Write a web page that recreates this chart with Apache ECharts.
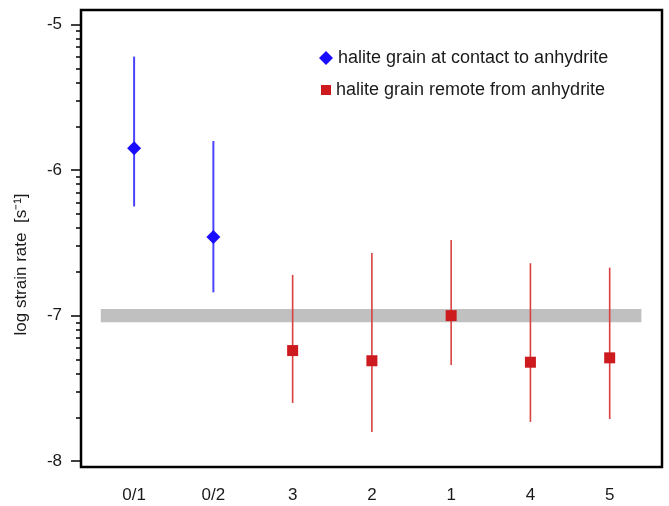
<!DOCTYPE html>
<html>
<head>
<meta charset="utf-8">
<script src="https://cdn.jsdelivr.net/npm/echarts@6/dist/echarts.min.js"></script>
<style>
  html, body { margin: 0; padding: 0; background: #ffffff; }
  #chart { width: 669px; height: 506px; }
</style>
</head>
<body>
<div id="chart"></div>
<script>
// Sample labels along the horizontal axis
const categories = ['0/1', '0/2', '3', '2', '1', '4', '5'];

// Grains at contact to anhydrite (positions 0, 1)
const contactIndex = [0, 1];
const contactRate = [-5.85, -6.46];
const contactHigh = [-5.22, -5.80];
const contactLow  = [-6.25, -6.84];

// Grains remote from anhydrite (positions 2..6)
const remoteIndex = [2, 3, 4, 5, 6];
const remoteRate = [-7.24, -7.31, -7.00, -7.32, -7.29];
const remoteHigh = [-6.72, -6.57, -6.48, -6.64, -6.67];
const remoteLow  = [-7.60, -7.80, -7.34, -7.73, -7.71];

// Reference strain rate shown as a grey band
const referenceRate = -7;
const referenceHalfWidth = 0.045;
const referenceSpan = [-0.42, 6.40];

// Y axis tick labels (log10 of strain rate)
const yTicks = [-8, -7, -6, -5];

// Log-style minor ticks inside each decade
const minorTicks = [];
for (let d = -8; d < -5; d++) {
  for (let k = 2; k <= 9; k++) minorTicks.push(d + Math.log10(k));
}

const FONT = '"Liberation Sans", Arial, Helvetica, sans-serif';
const TEXT = '#1a1a1a';
const BLUE = '#1a0dff';
const BLUE_LINE = '#4a44ff';
const RED = '#cc1a1e';
const RED_LINE = '#d9403f';

const NAME_CONTACT = 'halite grain at contact to anhydrite';
const NAME_REMOTE = 'halite grain remote from anhydrite';

function pairs(xs, ys) { return xs.map((x, i) => [x, ys[i]]); }
function bars(xs, lo, hi) { return xs.map((x, i) => [x, lo[i], hi[i]]); }

function errorBar(color, width) {
  return function (params, api) {
    const p1 = api.coord([api.value(0), api.value(1)]);
    const p2 = api.coord([api.value(0), api.value(2)]);
    return {
      type: 'line',
      shape: { x1: p1[0], y1: p1[1], x2: p2[0], y2: p2[1] },
      style: { stroke: color, lineWidth: width }
    };
  };
}

const legendText = { fontFamily: FONT, fontSize: 18, color: TEXT, lineHeight: 18 };

const chart = echarts.init(document.getElementById('chart'), null, { renderer: 'canvas' });

chart.setOption({
  animation: false,
  backgroundColor: '#ffffff',
  textStyle: { fontFamily: FONT },
  grid: {
    left: 81, top: 10, right: 7, bottom: 39,
    show: true, borderColor: '#000000', borderWidth: 2.5, backgroundColor: 'transparent'
  },
  legend: [
    {
      orient: 'vertical',
      left: 314, top: 44,
      itemWidth: 14, itemHeight: 14,
      itemTextGap: 12,
      textStyle: legendText,
      data: [{ name: NAME_CONTACT, icon: 'diamond' }]
    },
    {
      orient: 'vertical',
      left: 316, top: 76,
      itemWidth: 10, itemHeight: 10,
      itemTextGap: 14,
      textStyle: legendText,
      data: [{ name: NAME_REMOTE, icon: 'rect' }]
    }
  ],
  xAxis: {
    type: 'value',
    min: -0.67, max: 6.66,
    splitLine: { show: false },
    axisLine: { show: false, onZero: false },
    axisTick: { show: false },
    axisLabel: {
      customValues: categories.map((c, i) => i),
      formatter: v => categories[Math.round(v)],
      fontFamily: FONT, fontSize: 17, color: TEXT, margin: 20
    }
  },
  yAxis: [
    {
      type: 'value',
      min: -8.04, max: -4.9,
      name: 'log strain rate  [s\u207B\u00B9]',
      nameLocation: 'middle',
      nameGap: 51,
      nameTextStyle: { fontFamily: FONT, fontSize: 17, color: TEXT, padding: [0, 52, 0, 0] },
      splitLine: { show: false },
      axisLine: { show: false, onZero: false },
      axisTick: { show: true, customValues: yTicks, length: 10, lineStyle: { color: '#000', width: 1.5 } },
      axisLabel: { customValues: yTicks, fontFamily: FONT, fontSize: 17, color: TEXT, margin: 19 }
    },
    {
      type: 'value',
      min: -8.04, max: -4.9,
      position: 'left',
      splitLine: { show: false },
      axisLine: { show: false, onZero: false },
      axisLabel: { show: false },
      axisTick: { show: true, customValues: minorTicks, length: 5, lineStyle: { color: '#000', width: 1.5 } }
    }
  ],
  series: [
    {
      type: 'custom',
      name: 'contact bars',
      renderItem: errorBar(BLUE_LINE, 2),
      data: bars(contactIndex, contactLow, contactHigh),
      encode: { x: 0, y: [1, 2] },
      z: 2,
      silent: true
    },
    {
      type: 'custom',
      name: 'remote bars',
      renderItem: errorBar(RED_LINE, 1.6),
      data: bars(remoteIndex, remoteLow, remoteHigh),
      encode: { x: 0, y: [1, 2] },
      z: 2,
      silent: true
    },
    {
      type: 'scatter',
      name: NAME_CONTACT,
      symbol: 'diamond',
      symbolSize: 14,
      itemStyle: { color: BLUE, opacity: 1 },
      data: pairs(contactIndex, contactRate),
      z: 5
    },
    {
      type: 'scatter',
      name: NAME_REMOTE,
      symbol: 'rect',
      symbolSize: 11,
      itemStyle: { color: RED, opacity: 1 },
      data: pairs(remoteIndex, remoteRate),
      z: 5,
      markArea: {
        silent: true,
        z: 1,
        itemStyle: { color: '#c0c0c0', opacity: 1 },
        data: [[
          { xAxis: referenceSpan[0], yAxis: referenceRate + referenceHalfWidth },
          { xAxis: referenceSpan[1], yAxis: referenceRate - referenceHalfWidth }
        ]]
      }
    }
  ]
});
</script>
</body>
</html>
